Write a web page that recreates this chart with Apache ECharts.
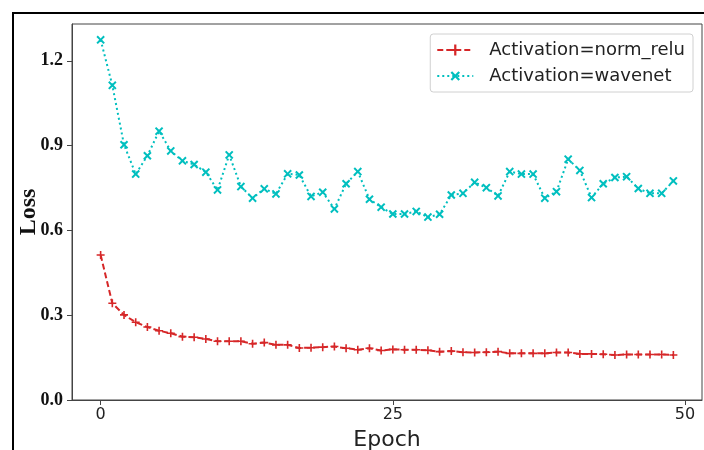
<!DOCTYPE html>
<html>
<head>
<meta charset="utf-8">
<script src="https://cdn.jsdelivr.net/npm/echarts@6/dist/echarts.min.js"></script>
<style>
  html, body { margin: 0; padding: 0; background: #fff; }
  #chart { width: 704px; height: 450px; }
</style>
</head>
<body>
<div id="chart"></div>
<script>
const epochs = [0,1,2,3,4,5,6,7,8,9,10,11,12,13,14,15,16,17,18,19,20,21,22,23,24,25,26,27,28,29,30,31,32,33,34,35,36,37,38,39,40,41,42,43,44,45,46,47,48,49];
const normRelu = [0.513,0.342,0.301,0.275,0.258,0.245,0.236,0.224,0.222,0.216,
                  0.208,0.208,0.208,0.199,0.203,0.195,0.195,0.184,0.185,0.187,
                  0.189,0.183,0.178,0.183,0.175,0.179,0.178,0.178,0.176,0.171,
                  0.173,0.169,0.168,0.169,0.171,0.165,0.165,0.165,0.165,0.168,
                  0.168,0.163,0.163,0.162,0.159,0.161,0.161,0.161,0.161,0.159];
const wavenet = [1.274,1.113,0.903,0.799,0.864,0.951,0.881,0.846,0.833,0.806,
                 0.743,0.867,0.755,0.714,0.747,0.729,0.800,0.796,0.720,0.735,
                 0.676,0.765,0.808,0.710,0.682,0.658,0.658,0.667,0.647,0.657,
                 0.725,0.731,0.770,0.751,0.722,0.808,0.799,0.799,0.714,0.737,
                 0.852,0.812,0.716,0.765,0.787,0.790,0.748,0.731,0.731,0.775];
const xTicks = [0, 25, 50];
const yTicks = [0, 0.3, 0.6, 0.9, 1.2];
const seriesNames = ['Activation=norm_relu', 'Activation=wavenet'];

const RED = '#d62728';
const CYAN = '#00bfbf';
const PLUS = 'path://M4,0 H6 V4 H10 V6 H6 V10 H4 V6 H0 V4 H4 Z';

const chart = echarts.init(document.getElementById('chart'), null, { renderer: 'canvas' });
chart.setOption({
  animation: false,
  backgroundColor: '#fff',
  graphic: [{
    type: 'rect',
    shape: { x: 13, y: 13, width: 720, height: 470 },
    style: { fill: 'none', stroke: '#000', lineWidth: 2 },
    z: 100
  }],
  grid: {
    left: 72, top: 24, right: 2, bottom: 50,
    outerBoundsMode: 'none',
    show: true, borderColor: '#444', borderWidth: 1, backgroundColor: 'transparent'
  },
  legend: {
    orient: 'vertical',
    right: 11, top: 34,
    padding: [7, 8, 7, 6],
    itemGap: 8,
    itemWidth: 36, itemHeight: 14,
    borderColor: '#d0d0d0', borderWidth: 1, borderRadius: 3,
    backgroundColor: '#fff',
    textStyle: { fontFamily: 'DejaVu Sans', fontSize: 18, color: '#222', padding: [0, 0, 0, 11] },
    data: seriesNames
  },
  xAxis: {
    type: 'value',
    min: -2.45, max: 51.45,
    name: 'Epoch', nameLocation: 'middle', nameGap: 29, nameMoveOverlap: false,
    nameTextStyle: { fontFamily: 'DejaVu Sans', fontSize: 22, color: '#222' },
    axisLine: { onZero: false, lineStyle: { color: '#444', width: 1 } },
    axisTick: { show: true, length: 5, customValues: xTicks, lineStyle: { color: '#444' } },
    axisLabel: { customValues: xTicks, margin: 7, fontFamily: 'DejaVu Sans', fontSize: 16, color: '#222' },
    splitLine: { show: false }
  },
  yAxis: {
    type: 'value',
    min: 0, max: 1.33,
    name: 'Loss', nameLocation: 'middle', nameGap: 31, nameMoveOverlap: false,
    nameTextStyle: { fontFamily: 'Liberation Serif', fontWeight: 'bold', fontSize: 24, color: '#111' },
    axisLine: { show: true, onZero: false, lineStyle: { color: '#444', width: 1 } },
    axisTick: { show: true, length: 5, customValues: yTicks, lineStyle: { color: '#444' } },
    axisLabel: {
      customValues: yTicks, margin: 9,
      fontFamily: 'Liberation Serif', fontWeight: 'bold', fontSize: 18, color: '#111',
      formatter: v => v.toFixed(1)
    },
    splitLine: { show: false }
  },
  series: [
    {
      name: seriesNames[0],
      type: 'line',
      data: epochs.map((e, i) => [e, normRelu[i]]),
      symbol: PLUS, symbolSize: 8, showAllSymbol: true,
      lineStyle: { color: RED, width: 2, type: [6, 3] },
      itemStyle: { color: RED },
      z: 3
    },
    {
      name: seriesNames[1],
      type: 'line',
      data: epochs.map((e, i) => [e, wavenet[i]]),
      symbol: PLUS, symbolSize: 10, symbolRotate: 45, showAllSymbol: true,
      lineStyle: { color: CYAN, width: 2, type: [2, 3] },
      itemStyle: { color: CYAN },
      z: 3
    }
  ]
});
</script>
</body>
</html>
